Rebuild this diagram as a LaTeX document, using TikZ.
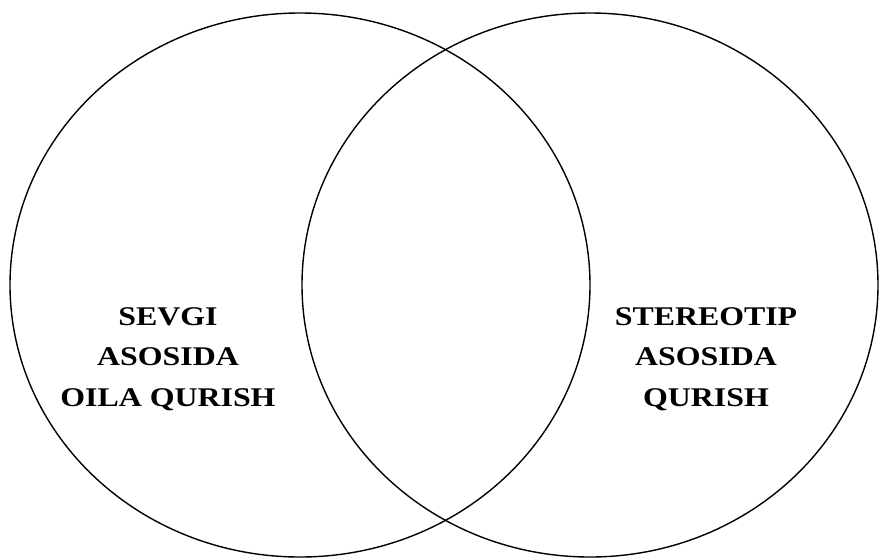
\documentclass[tikz,border=0pt]{standalone}
\usepackage{fontspec}
\setmainfont{Liberation Serif}
\usetikzlibrary{shapes.geometric,positioning}

\tikzset{
  ring/.style={draw,ellipse,line width=1.4pt,inner sep=0pt,minimum width=580pt,minimum height=544pt},
  label/.style={align=center,inner sep=0pt,font=\bfseries\fontsize{27}{40.5}\selectfont,xscale=1.18,transform shape}
}

\begin{document}
\begin{tikzpicture}[x=1pt,y=-1pt]
\useasboundingbox (0,0) rectangle (879,558);
\node[ring] (love) at (300,285) {};
\node[ring,minimum width=576pt] (type) at (590,285) {};
\node[label] (lovetext) at (168,359) {SEVGI\\ASOSIDA\\OILA QURISH};
\node[label] (typetext) at (706,359) {STEREOTIP\\ASOSIDA\\QURISH};
\end{tikzpicture}
\end{document}
